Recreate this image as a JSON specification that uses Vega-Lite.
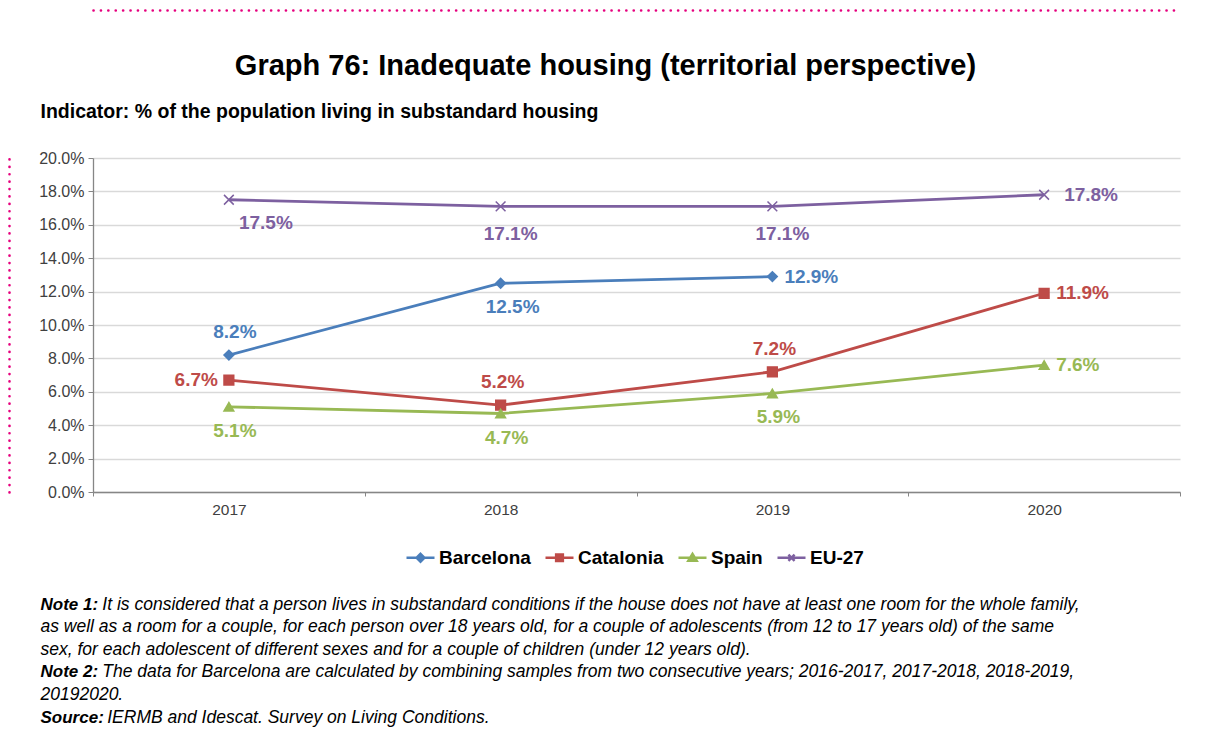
{
  "$schema": "https://vega.github.io/schema/vega-lite/v6.json",
  "width": 1087,
  "height": 334,
  "autosize": {"type": "none"},
  "padding": {"left": 93, "top": 158, "right": 37, "bottom": 263},
  "background": "white",
  "config": {"font": "Liberation Sans", "view": {"stroke": null}},
  "title": {
    "text": "Graph 76: Inadequate housing (territorial perspective)",
    "fontSize": 29,
    "fontWeight": "bold",
    "color": "black",
    "anchor": "middle",
    "frame": "group",
    "dx": -31,
    "offset": -71
  },
  "data": {
    "values": [
      {"series": "Barcelona", "year": "2017", "value": 0.082},
      {"series": "Barcelona", "year": "2018", "value": 0.125},
      {"series": "Barcelona", "year": "2019", "value": 0.129},
      {"series": "Catalonia", "year": "2017", "value": 0.067},
      {"series": "Catalonia", "year": "2018", "value": 0.052},
      {"series": "Catalonia", "year": "2019", "value": 0.072},
      {"series": "Catalonia", "year": "2020", "value": 0.119},
      {"series": "Spain", "year": "2017", "value": 0.051},
      {"series": "Spain", "year": "2018", "value": 0.047},
      {"series": "Spain", "year": "2019", "value": 0.059},
      {"series": "Spain", "year": "2020", "value": 0.076},
      {"series": "EU-27", "year": "2017", "value": 0.175},
      {"series": "EU-27", "year": "2018", "value": 0.171},
      {"series": "EU-27", "year": "2019", "value": 0.171},
      {"series": "EU-27", "year": "2020", "value": 0.178}
    ]
  },
  "encoding": {
    "x": {
      "field": "year",
      "type": "ordinal",
      "bandPosition": 0.5,
      "scale": {"type": "band", "paddingInner": 0, "paddingOuter": 0},
      "axis": null
    },
    "y": {
      "field": "value",
      "type": "quantitative",
      "scale": {"domain": [0, 0.2], "nice": false},
      "axis": null
    },
    "color": {
      "field": "series",
      "type": "nominal",
      "scale": {"domain": ["Barcelona", "Catalonia", "Spain", "EU-27"], "range": ["#4a7ebb", "#be4b48", "#98b954", "#7d60a0"]},
      "legend": null
    }
  },
  "layer": [
    {
      "mark": {"type": "line", "strokeWidth": 2.8},
      "encoding": {
        "x": {
          "field": "year",
          "type": "ordinal",
          "bandPosition": 0.5,
          "scale": {"type": "band", "paddingInner": 0, "paddingOuter": 0},
          "axis": {
            "orient": "bottom",
            "tickBand": "extent",
            "labelAngle": 0,
            "labelFontSize": 15.5,
            "labelColor": "#404040",
            "labelPadding": 6,
            "tickSize": 4,
            "domainColor": "#868686",
            "tickColor": "#868686",
            "domainWidth": 1.3,
            "grid": false,
            "title": [
              "\u200b\u00a0\u00a0\u00a0\u00a0\u00a0\u00a0\u00a0\u00a0\u00a0\u00a0\u00a0\u00a0\u2009It is considered that a person lives in substandard conditions if the house does not have at least one room for the whole family,",
              "as well as a room for a couple, for each person over 18 years old, for a couple of adolescents (from 12 to 17 years old) of the same",
              "sex, for each adolescent of different sexes and for a couple of children (under 12 years old).",
              "\u200b\u00a0\u00a0\u00a0\u00a0\u00a0\u00a0\u00a0\u00a0\u00a0\u00a0\u00a0\u00a0\u2009The data for Barcelona are calculated by combining samples from two consecutive years; 2016-2017, 2017-2018, 2018-2019,",
              "20192020.",
              "\u200b\u00a0\u00a0\u00a0\u00a0\u00a0\u00a0\u00a0\u00a0\u00a0\u00a0\u00a0\u00a0\u00a0\u2009IERMB and Idescat. Survey on Living Conditions."
            ],
            "titleX": -53,
            "titleY": 117,
            "titleAlign": "left",
            "titleAnchor": "start",
            "titleBaseline": "alphabetic",
            "titleFontSize": 17.5,
            "titleFontStyle": "italic",
            "titleFontWeight": "normal",
            "titleColor": "black",
            "titleLineHeight": 22.6
          }
        },
        "y": {
          "field": "value",
          "type": "quantitative",
          "scale": {"domain": [0, 0.2], "nice": false},
          "axis": {
            "orient": "left",
            "format": ".1%",
            "values": [0, 0.02, 0.04, 0.06, 0.08, 0.1, 0.12, 0.14, 0.16, 0.18, 0.2],
            "grid": true,
            "gridColor": "#d9d9d9",
            "gridWidth": 1.3,
            "domainColor": "#868686",
            "domainWidth": 1.3,
            "tickColor": "#868686",
            "tickSize": 5,
            "labelFontSize": 16,
            "labelColor": "#404040",
            "labelPadding": 4,
            "title": "Indicator: % of the population living in substandard housing",
            "titleAngle": 0,
            "titleX": -53,
            "titleY": -41,
            "titleAlign": "left",
            "titleAnchor": "start",
            "titleBaseline": "alphabetic",
            "titleFontSize": 19.5,
            "titleFontWeight": "bold",
            "titleColor": "black"
          }
        }
      }
    },
    {
      "mark": {"type": "point", "filled": true, "size": 95, "strokeWidth": 1.5, "opacity": 1},
      "encoding": {
        "stroke": {
          "field": "series",
          "type": "nominal",
          "scale": {"domain": ["Barcelona", "Catalonia", "Spain", "EU-27"], "range": ["#4a7ebb", "#be4b48", "#98b954", "#7d60a0"]},
          "legend": null
        },
        "shape": {
          "field": "series",
          "type": "nominal",
          "scale": {"domain": ["Barcelona", "Catalonia", "Spain", "EU-27"], "range": ["diamond", "square", "triangle-up", "M-1,-1L1,1M-1,1L1,-1"]},
          "legend": null
        }
      }
    },
    {
      "mark": {"type": "point", "filled": true, "size": 784, "strokeWidth": 2.5, "opacity": 0},
      "encoding": {
        "color": {
          "field": "series",
          "type": "nominal",
          "scale": {"domain": ["Barcelona", "Catalonia", "Spain", "EU-27"], "range": ["#4a7ebb", "#be4b48", "#98b954", "#7d60a0"]},
          "legend": {
            "orient": "none",
            "legendX": 312,
            "legendY": 384,
            "direction": "horizontal",
            "title": null,
            "labelFontSize": 19,
            "labelFontWeight": "bold",
            "labelColor": "black",
            "symbolSize": 784,
            "symbolStrokeWidth": 2.5,
            "symbolOpacity": 1,
            "columnPadding": 9,
            "labelOffset": 3
          }
        },
        "stroke": {
          "field": "series",
          "type": "nominal",
          "scale": {"domain": ["Barcelona", "Catalonia", "Spain", "EU-27"], "range": ["#4a7ebb", "#be4b48", "#98b954", "#7d60a0"]},
          "legend": {
            "orient": "none",
            "legendX": 312,
            "legendY": 384,
            "direction": "horizontal",
            "title": null,
            "labelFontSize": 19,
            "labelFontWeight": "bold",
            "labelColor": "black",
            "symbolSize": 784,
            "symbolStrokeWidth": 2.5,
            "symbolOpacity": 1,
            "columnPadding": 9,
            "labelOffset": 3
          }
        },
        "shape": {
          "field": "series",
          "type": "nominal",
          "scale": {
            "domain": ["Barcelona", "Catalonia", "Spain", "EU-27"],
            "range": [
              "M-1,0L1,0M0,-0.28L0.28,0L0,0.28L-0.28,0Z",
              "M-1,0L1,0M-0.24,-0.24L0.24,-0.24L0.24,0.24L-0.24,0.24Z",
              "M-1,0L1,0M0,-0.28L0.3,0.22L-0.3,0.22Z",
              "M-1,0L1,0M-0.22,-0.22L0.22,0.22M-0.22,0.22L0.22,-0.22"
            ]
          },
          "legend": {
            "orient": "none",
            "legendX": 312,
            "legendY": 384,
            "direction": "horizontal",
            "title": null,
            "labelFontSize": 19,
            "labelFontWeight": "bold",
            "labelColor": "black",
            "symbolSize": 784,
            "symbolStrokeWidth": 2.5,
            "symbolOpacity": 1,
            "columnPadding": 9,
            "labelOffset": 3
          }
        }
      }
    },
    {
      "transform": [{"filter": "datum.series == 'Barcelona' && datum.year == '2017'"}],
      "mark": {"type": "text", "fontSize": 19, "fontWeight": "bold", "dx": 6, "dy": -23, "align": "center", "baseline": "middle"},
      "encoding": {
        "text": {"field": "value", "type": "quantitative", "format": ".1%"},
        "x": {
          "field": "year",
          "type": "ordinal",
          "bandPosition": 0.5,
          "scale": {"type": "band", "paddingInner": 0, "paddingOuter": 0},
          "axis": {
            "orient": "top",
            "offset": 148,
            "labels": false,
            "ticks": false,
            "grid": false,
            "title": null,
            "domain": true,
            "domainColor": "#e6007e",
            "domainWidth": 2.6,
            "domainDash": [0.1, 7.3],
            "domainCap": "round"
          }
        }
      }
    },
    {
      "transform": [{"filter": "datum.series == 'Catalonia' && (datum.year == '2018' || datum.year == '2019')"}],
      "mark": {"type": "text", "fontSize": 19, "fontWeight": "bold", "dx": 2, "dy": -23, "align": "center", "baseline": "middle"},
      "encoding": {
        "text": {"field": "value", "type": "quantitative", "format": ".1%"},
        "y": {
          "field": "value",
          "type": "quantitative",
          "scale": {"domain": [0, 0.2], "nice": false},
          "axis": {
            "orient": "left",
            "offset": 84,
            "labels": false,
            "ticks": false,
            "grid": false,
            "title": null,
            "domain": true,
            "domainColor": "#e6007e",
            "domainWidth": 2.6,
            "domainDash": [0.1, 7.3],
            "domainCap": "round"
          }
        }
      }
    },
    {
      "transform": [{"filter": "datum.series == 'EU-27' && datum.year == '2017'"}],
      "mark": {"type": "text", "fontSize": 19, "fontWeight": "bold", "dx": 37, "dy": 23, "align": "center", "baseline": "middle"},
      "encoding": {"text": {"field": "value", "type": "quantitative", "format": ".1%"}}
    },
    {
      "transform": [{"filter": "datum.series == 'EU-27' && (datum.year == '2018' || datum.year == '2019')"}],
      "mark": {"type": "text", "fontSize": 19, "fontWeight": "bold", "dx": 10, "dy": 27.5, "align": "center", "baseline": "middle"},
      "encoding": {"text": {"field": "value", "type": "quantitative", "format": ".1%"}}
    },
    {
      "transform": [{"filter": "datum.series == 'Barcelona' && datum.year == '2018'"}],
      "mark": {"type": "text", "fontSize": 19, "fontWeight": "bold", "dx": 12, "dy": 24, "align": "center", "baseline": "middle"},
      "encoding": {"text": {"field": "value", "type": "quantitative", "format": ".1%"}}
    },
    {
      "transform": [{"filter": "datum.series == 'Spain' && datum.year != '2020'"}],
      "mark": {"type": "text", "fontSize": 19, "fontWeight": "bold", "dx": 6, "dy": 24, "align": "center", "baseline": "middle"},
      "encoding": {"text": {"field": "value", "type": "quantitative", "format": ".1%"}}
    },
    {
      "transform": [{"filter": "(datum.year == '2020' && datum.series != 'EU-27') || (datum.series == 'Barcelona' && datum.year == '2019')"}],
      "mark": {"type": "text", "fontSize": 19, "fontWeight": "bold", "dx": 12, "align": "left", "baseline": "middle"},
      "encoding": {"text": {"field": "value", "type": "quantitative", "format": ".1%"}}
    },
    {
      "transform": [{"filter": "datum.year == '2020' && datum.series == 'EU-27'"}],
      "mark": {"type": "text", "fontSize": 19, "fontWeight": "bold", "dx": 20, "align": "left", "baseline": "middle"},
      "encoding": {"text": {"field": "value", "type": "quantitative", "format": ".1%"}}
    },
    {
      "transform": [{"filter": "datum.series == 'Catalonia' && datum.year == '2017'"}],
      "mark": {"type": "text", "fontSize": 19, "fontWeight": "bold", "dx": -11, "align": "right", "baseline": "middle"},
      "encoding": {
        "y": {
          "field": "value",
          "type": "quantitative",
          "scale": {"domain": [0, 0.2], "nice": false},
          "axis": {
            "orient": "right",
            "domain": false,
            "ticks": false,
            "labels": false,
            "grid": false,
            "title": ["Note 1:", "\u200b", "\u200b", "Note 2:", "\u200b", "Source:"],
            "titleAngle": 0,
            "titleX": -1140,
            "titleY": 451,
            "titleAlign": "left",
            "titleAnchor": "start",
            "titleBaseline": "alphabetic",
            "titleFontSize": 17,
            "titleFontStyle": "italic",
            "titleFontWeight": "bold",
            "titleColor": "black",
            "titleLineHeight": 22.6
          }
        },
        "text": {"field": "value", "type": "quantitative", "format": ".1%"}
      }
    }
  ],
  "resolve": {
    "scale": {"y": "independent", "color": "independent", "stroke": "independent", "shape": "independent"},
    "axis": {"x": "independent", "y": "independent"}
  }
}
